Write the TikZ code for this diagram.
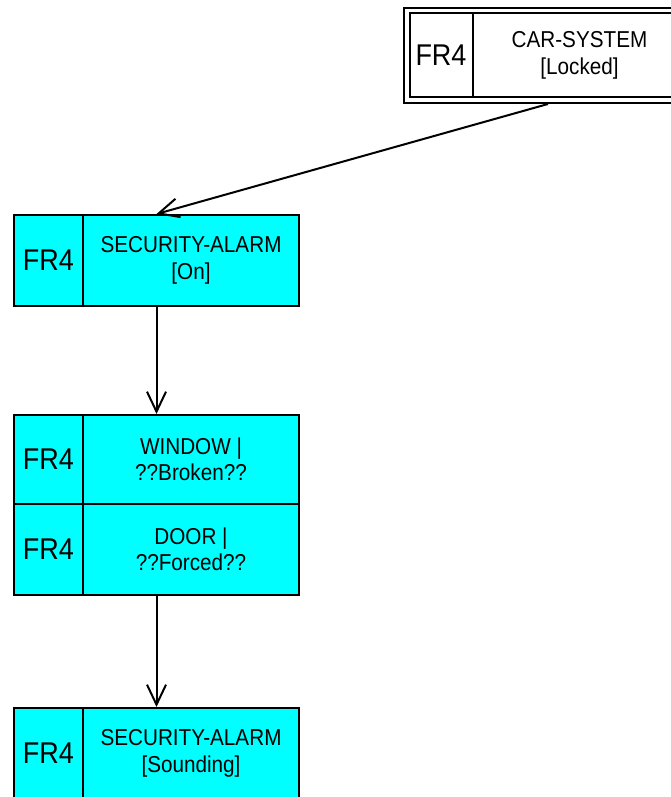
\documentclass[tikz,border=0pt]{standalone}
\usepackage{fontspec}
\setmainfont{Liberation Sans}
\newfontfamily\narrowsans[FakeStretch=0.9]{Liberation Sans}
\usetikzlibrary{arrows.meta}
\definecolor{boxcyan}{HTML}{00FFFF}
\tikzset{
  outerbox/.style={draw, line width=2pt, inner sep=0pt, fill=#1},
  outerbox/.default=boxcyan,
  frfont/.style={font=\narrowsans\fontsize{30}{32}\selectfont},
  namefont/.style={font=\narrowsans\fontsize{23}{26.5}\selectfont, align=center},
  frcell/.style={draw, line width=2pt, inner sep=0pt, minimum width=69pt, frfont, text depth=-2pt},
  namecell/.style={draw, line width=2pt, inner sep=0pt, minimum width=216pt, namefont},
  conn/.style={line width=2pt, -{Straight Barb[length=20pt,width=19pt,line width=2pt]}}
}
\begin{document}
\begin{tikzpicture}[x=1pt,y=-1pt]
\useasboundingbox (0,0) rectangle (671,797);
\clip (0,0) rectangle (671,797);

% top box (double border, white)
\node[outerbox=white, minimum width=288pt, minimum height=95pt] (top) at (548,55.5) {};
\node[outerbox=white, minimum width=277pt, minimum height=84pt] (topin) at (top.center) {};
\node[frcell, minimum width=63pt, minimum height=84pt, anchor=west] (topfr) at (topin.west) {FR4};
\node[namecell, minimum width=214pt, minimum height=84pt, anchor=east] (topname) at (topin.east) {CAR-SYSTEM\\{}[Locked]};

% security alarm on
\node[outerbox, minimum width=285pt, minimum height=91pt] (b2) at (156.5,260.5) {};
\node[frcell, minimum height=91pt, anchor=west] (b2fr) at (b2.west) {FR4};
\node[namecell, minimum height=91pt, anchor=east] (b2name) at (b2.east) {SECURITY-ALARM\\{}[On]};

% window
\node[outerbox, minimum width=285pt, minimum height=89pt] (b3) at (156.5,459.5) {};
\node[frcell, minimum height=89pt, anchor=west] (b3fr) at (b3.west) {FR4};
\node[namecell, minimum height=89pt, anchor=east] (b3name) at (b3.east) {WINDOW |\\??Broken??};

% door
\node[outerbox, minimum width=285pt, minimum height=91pt] (b4) at (156.5,549.5) {};
\node[frcell, minimum height=91pt, anchor=west] (b4fr) at (b4.west) {FR4};
\node[namecell, minimum height=91pt, anchor=east] (b4name) at (b4.east) {DOOR |\\??Forced??};

% security alarm sounding
\node[outerbox, minimum width=285pt, minimum height=91pt] (b5) at (156.5,753.5) {};
\node[frcell, minimum height=91pt, anchor=west] (b5fr) at (b5.west) {FR4};
\node[namecell, minimum height=91pt, anchor=east] (b5name) at (b5.east) {SECURITY-ALARM\\{}[Sounding]};

% connectors
\draw[conn] (top.south) -- (b2.north);
\draw[conn] (b2.south) -- (b3.north);
\draw[conn] (b4.south) -- (b5.north);
\end{tikzpicture}
\end{document}
